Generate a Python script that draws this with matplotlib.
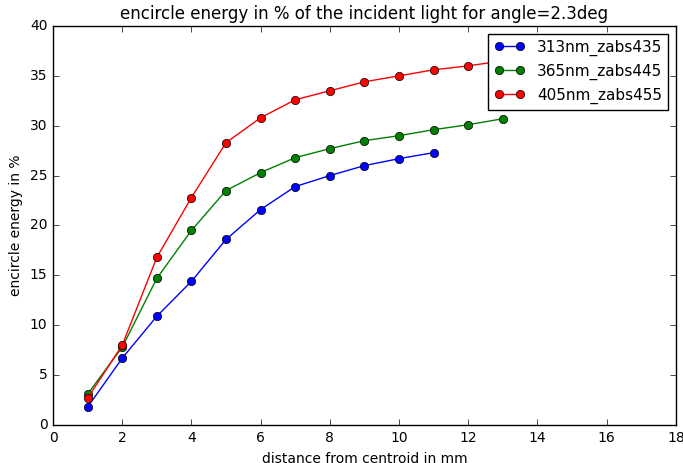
import matplotlib
matplotlib.use("Agg")
import matplotlib.pyplot as plt

plt.style.use('classic')

x_blue = [1, 2, 3, 4, 5, 6, 7, 8, 9, 10, 11]
y_blue = [1.8, 6.7, 10.9, 14.4, 18.6, 21.6, 23.9, 25.0, 26.0, 26.7, 27.3]
x_green = [1, 2, 3, 4, 5, 6, 7, 8, 9, 10, 11, 12, 13]
y_green = [3.1, 7.8, 14.7, 19.5, 23.5, 25.3, 26.8, 27.7, 28.5, 29.0, 29.6, 30.1, 30.7]
x_red = [1, 2, 3, 4, 5, 6, 7, 8, 9, 10, 11, 12, 13]
y_red = [2.7, 8.0, 16.8, 22.8, 28.3, 30.8, 32.6, 33.5, 34.4, 35.0, 35.6, 36.0, 36.5]
labels = ['313nm_zabs435', '365nm_zabs445', '405nm_zabs455']

fig = plt.figure(figsize=(6.83, 4.63), dpi=100, facecolor='white')
ax = fig.add_axes([0.0776, 0.082, 0.912, 0.862])
ax.plot(x_blue, y_blue, 'o-', color='b', label=labels[0], markersize=6)
ax.plot(x_green, y_green, 'o-', color='g', label=labels[1], markersize=6)
ax.plot(x_red, y_red, 'o-', color='r', label=labels[2], markersize=6)
ax.set_xlim(0, 18)
ax.set_ylim(0, 40)
ax.set_title('encircle energy in % of the incident light for angle=2.3deg', fontsize=12)
ax.set_xlabel('distance from centroid in mm', fontsize=10)
ax.set_ylabel('encircle energy in %', fontsize=10)
ax.tick_params(labelsize=10)
ax.legend(loc='upper right', fontsize=11, numpoints=2)
fig.savefig('out.png', dpi=100, facecolor='white')
